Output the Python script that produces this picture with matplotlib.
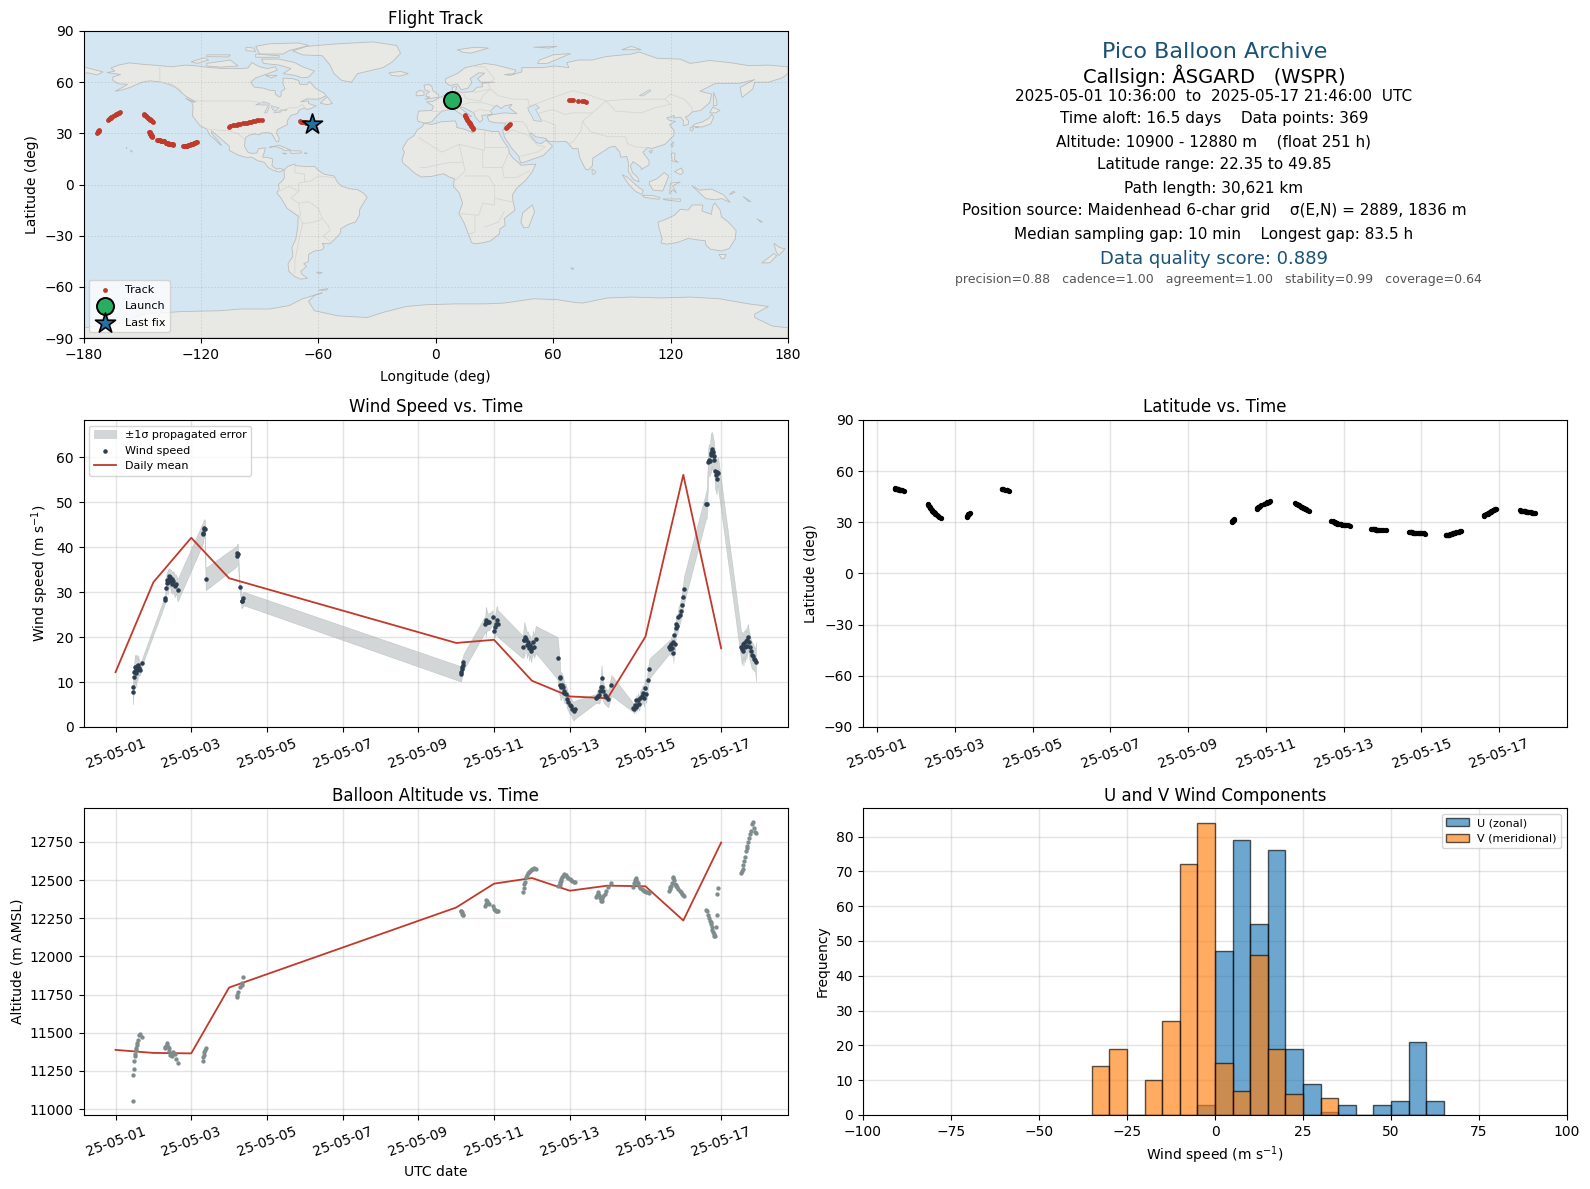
from datetime import datetime
import numpy as np
import matplotlib
matplotlib.use("Agg")
import matplotlib.pyplot as plt
import matplotlib.dates as mdates

# samples, days since 2025-05-01 00:00, one line per daytime cluster
t_days = [
    .46, .47, .49, .50, .51, .52, .53, .55, .56, .58, .60, .62, .65, .69,
    1.30, 1.31, 1.33, 1.35, 1.37, 1.38, 1.40, 1.42, 1.44, 1.46, 1.48, 1.50, 1.53, 1.56, 1.60, 1.64,
    2.30, 2.31, 2.33, 2.35, 2.36, 2.38,
    3.20, 3.21, 3.23, 3.28, 3.33, 3.35, 3.38,
    9.13, 9.14, 9.15, 9.16, 9.18, 9.19,
    9.77, 9.78, 9.80, 9.82, 9.84, 9.87, 9.96, 10.00, 10.02, 10.04, 10.07, 10.10,
    10.76, 10.78, 10.80, 10.82, 10.84, 10.87, 10.90, 10.93, 10.95, 10.98, 11.00, 11.03, 11.06, 11.10,
    11.68, 11.73, 11.74, 11.75, 11.77, 11.78, 11.80, 11.82, 11.84, 11.86, 11.90, 11.93, 11.96, 12.00, 12.03, 12.06, 12.10, 12.15,
    12.70, 12.72, 12.75, 12.78, 12.80, 12.82, 12.84, 12.86, 12.88, 12.92, 12.96, 13.02, 13.10,
    13.68, 13.70, 13.72, 13.74, 13.76, 13.78, 13.80, 13.83, 13.86, 13.90, 13.93, 13.96, 13.98, 14.02, 14.06, 14.10,
    14.62, 14.64, 14.66, 14.68, 14.70, 14.72, 14.74, 14.76, 14.78, 14.80, 14.82, 14.84, 14.87, 14.90, 14.93, 14.96, 14.99, 15.02,
    15.61, 15.62, 15.66, 15.68, 15.70, 15.72, 15.73, 15.75, 15.76, 15.78, 15.80, 15.82, 15.84, 15.86, 15.88, 15.90, 15.92,
    16.53, 16.55, 16.57, 16.59, 16.61, 16.63, 16.65, 16.67, 16.69, 16.71, 16.73, 16.75, 16.78, 16.81, 16.84, 16.87, 16.90, 16.92,
]
wind = [
    7.7, 8.8, 11.2, 12.2, 13.4, 12.4, 13.2, 12.1, 13.6, 12.6, 13.8, 13.2, 12.7, 14.2,
    28.2, 28.6, 30.9, 32.0, 32.6, 32.2, 33.5, 33.0, 33.4, 32.4, 32.9, 31.9, 32.5, 31.4, 31.8, 30.4,
    43.0, 43.2, 44.1, 44.2, 44.0, 32.9,
    38.0, 38.6, 38.5, 31.2, 28.0, 28.1, 28.6,
    11.8, 12.3, 12.9, 13.4, 13.9, 14.4,
    23.0, 23.4, 23.8, 23.4, 23.4, 23.4, 24.4, 21.4, 22.3, 23.0, 23.8, 23.0,
    17.8, 19.3, 19.4, 20.1, 19.6, 18.2, 18.9, 17.5, 18.2, 16.8, 17.6, 18.9, 17.9, 19.5,
    15.3, 11.2, 10.8, 9.3, 9.0, 9.2, 9.3, 8.9, 8.0, 7.5, 7.4, 6.2, 5.6, 4.9, 4.6, 4.0, 3.5, 3.9,
    6.4, 6.6, 6.9, 7.1, 7.9, 9.0, 10.8, 9.0, 7.9, 7.1, 6.6, 6.3, 9.3,
    4.3, 4.0, 4.9, 4.4, 5.9, 4.9, 6.0, 5.2, 6.4, 6.8, 7.5, 6.5, 8.6, 7.4, 10.5, 13.0,
    17.7, 18.0, 17.4, 18.4, 17.5, 19.0, 16.4, 20.5, 18.4, 22.0, 23.0, 22.5, 24.4, 25.0, 25.9, 27.2, 29.0, 30.6,
    49.6, 49.7, 59.0, 59.4, 59.2, 60.5, 60.9, 61.8, 61.4, 61.2, 60.4, 59.3, 56.9, 56.0, 55.2, 56.8, 56.5,
    17.9, 17.4, 18.4, 17.0, 18.6, 17.8, 19.2, 18.0, 19.4, 20.1, 18.8, 17.9, 16.8, 16.0, 15.7, 15.2, 14.8, 14.5,
]
wind_err = [
    2.6, 2.2, 2.4, 2.8, 2.6, 3.2, 2.9, 3.3, 2.6, 2.4, 2.1, 1.8, 1.2, .8,
    .9, 1.0, 1.8, 2.4, 2.0, 2.7, 1.8, 2.3, 1.6, 2.6, 1.9, 2.4, 2.2, 2.6, 2.1, 2.5,
    2.4, 2.3, 2.1, 2.0, 2.1, 2.5,
    2.3, 2.2, 2.3, .8, 1.6, 1.5, 1.5,
    1.7, 1.7, 1.8, 1.9, 1.8, 1.8,
    1.8, 3.4, 2.5, 2.0, 1.9, 1.9, 1.6, 1.8, 2.2, 2.6, 3.2, 3.0,
    2.5, 2.8, 4.0, 2.6, 2.5, 2.9, 2.4, 2.8, 2.3, 2.4, 2.2, 2.6, 2.5, 3.0,
    4.7, 4.2, 3.6, 3.2, 3.0, 2.9, 2.5, 2.4, 2.4, 2.2, 2.1, 2.1, 2.0, 2.0, 1.9, 2.0, 2.1, 2.0,
    1.0, 1.3, 1.6, 1.9, 2.2, 2.5, 3.0, 2.6, 2.2, 2.0, 1.8, 1.9, 2.3,
    1.0, 1.0, 1.1, 1.2, 1.3, 1.4, 1.5, 1.6, 1.7, 1.8, 1.9, 2.0, 2.1, 2.1, 2.2, 2.2,
    1.5, 1.5, 1.6, 1.7, 1.8, 1.8, 2.2, 2.0, 2.0, 2.0, 2.1, 2.0, 2.2, 2.2, 2.2, 2.3, 2.5, 3.0,
    3.0, 3.2, 3.2, 3.6, 3.3, 4.0, 4.4, 3.8, 4.2, 3.7, 3.5, 3.2, 3.9, 3.6, 3.5, 3.0, 3.5,
    3.2, 3.6, 2.8, 3.4, 2.9, 3.4, 2.8, 3.0, 3.2, 2.8, 2.7, 3.0, 2.9, 3.0, 2.9, 2.7, 2.6, 4.4,
]
altitude = [
    11053, 11225, 11262, 11316, 11345, 11362, 11385, 11400, 11420, 11436, 11453, 11485, 11490, 11470,
    11399, 11405, 11414, 11420, 11431, 11410, 11399, 11380, 11355, 11352, 11350, 11358, 11373, 11360, 11330, 11300,
    11316, 11344, 11355, 11377, 11390, 11399,
    11731, 11750, 11768, 11800, 11811, 11826, 11867,
    12300, 12295, 12288, 12280, 12274, 12268,
    12333, 12345, 12372, 12360, 12348, 12340, 12330, 12311, 12305, 12300, 12298, 12296,
    12420, 12445, 12474, 12490, 12517, 12530, 12545, 12550, 12560, 12565, 12572, 12575, 12578, 12575,
    12463, 12470, 12478, 12490, 12496, 12505, 12520, 12528, 12535, 12539, 12530, 12520, 12513, 12505, 12500, 12496, 12490, 12485,
    12391, 12405, 12420, 12400, 12380, 12361, 12365, 12380, 12395, 12408, 12430, 12452, 12478,
    12452, 12480, 12500, 12510, 12500, 12490, 12478, 12463, 12450, 12440, 12435, 12430, 12425, 12422, 12420, 12418,
    12431, 12440, 12452, 12463, 12480, 12513, 12520, 12500, 12474, 12466, 12460, 12452, 12440, 12430, 12420, 12410, 12404, 12398,
    12304, 12295, 12268, 12250, 12232, 12224, 12210, 12192, 12175, 12159, 12148, 12135, 12131, 12192, 12272, 12409, 12448,
    12543, 12560, 12572, 12600, 12626, 12650, 12691, 12710, 12724, 12750, 12778, 12800, 12822, 12865, 12880, 12840, 12815, 12808,
]
latitude = [
    49.85, 49.8, 49.75, 49.65, 49.6, 49.5, 49.4, 49.3, 49.2, 49.1, 49.0, 48.9, 48.7, 48.5,
    40.6, 40.1, 39.5, 39.0, 38.5, 38.0, 37.4, 36.9, 36.3, 35.8, 35.3, 34.8, 34.2, 33.7, 33.1, 32.6,
    33.4, 33.9, 34.3, 34.6, 34.9, 35.3,
    49.6, 49.4, 49.3, 49.0, 48.8, 48.7, 48.6,
    30.4, 30.6, 30.9, 31.1, 31.4, 31.7,
    38.0, 38.4, 38.8, 39.2, 39.6, 40.0, 41.0, 41.2, 41.5, 41.8, 42.0, 42.3,
    41.1, 40.8, 40.5, 40.2, 39.9, 39.5, 39.2, 38.9, 38.6, 38.3, 38.0, 37.7, 37.3, 36.9,
    30.8, 30.5, 30.3, 30.1, 30.0, 29.8, 29.6, 29.4, 29.3, 29.1, 28.9, 28.8, 28.7, 28.5, 28.4, 28.3, 28.2, 28.1,
    26.1, 26.0, 25.9, 25.85, 25.8, 25.75, 25.7, 25.6, 25.55, 25.5, 25.4, 25.35, 25.3,
    24.3, 24.25, 24.2, 24.1, 24.05, 24.0, 23.95, 23.9, 23.85, 23.8, 23.75, 23.7, 23.65, 23.55, 23.5, 23.4,
    22.35, 22.4, 22.45, 22.55, 22.7, 22.8, 23.0, 23.2, 23.35, 23.5, 23.7, 23.85, 24.0, 24.2, 24.4, 24.6, 24.75, 24.9,
    33.9, 34.2, 34.6, 34.9, 35.1, 35.4, 35.6, 35.9, 36.1, 36.3, 36.6, 36.8, 37.1, 37.3, 37.6, 37.8, 38.0,
    37.0, 36.9, 36.9, 36.8, 36.7, 36.6, 36.5, 36.4, 36.3, 36.2, 36.1, 36.0, 35.9, 35.8, 35.7, 35.6, 35.5, 35.4,
]
longitude = [
    8.5, 8.6, 8.7, 8.9, 9.0, 9.2, 9.3, 9.5, 9.7, 9.9, 10.1, 10.3, 10.7, 11.2,
    14.7, 15.0, 15.3, 15.6, 15.9, 16.2, 16.5, 16.8, 17.0, 17.3, 17.6, 17.9, 18.2, 18.5, 18.9, 19.2,
    36.0, 36.4, 36.8, 37.2, 37.6, 38.0,
    68.3, 69.2, 70.2, 72.5, 74.8, 75.8, 76.8,
    -173.0, -172.8, -172.6, -172.4, -172.2, -172.0,
    -167.7, -167.2, -166.7, -166.2, -165.7, -165.0, -164.0, -163.6, -163.0, -162.5, -162.0, -161.3,
    -149.3, -149.0, -148.7, -148.3, -148.0, -147.6, -147.2, -146.9, -146.5, -146.2, -145.8, -145.5, -145.1, -144.6,
    -146.3, -146.2, -146.1, -146.0, -145.9, -145.9, -145.8, -145.7, -145.6, -145.6, -145.5, -145.4, -145.3, -145.2, -145.1, -145.1, -145.0, -144.9,
    -142.2, -141.9, -141.6, -141.2, -140.9, -140.6, -140.3, -140.0, -139.8, -139.6, -139.3, -139.1, -138.8,
    -137.8, -137.6, -137.3, -137.1, -136.8, -136.6, -136.4, -136.2, -136.0, -135.7, -135.5, -135.3, -135.1, -134.8, -134.5, -134.3,
    -128.9, -128.5, -128.1, -127.7, -127.3, -126.9, -126.5, -126.1, -125.7, -125.3, -124.9, -124.5, -124.1, -123.7, -123.3, -122.9, -122.5, -122.1,
    -105.9, -104.9, -103.8, -102.8, -101.8, -100.8, -99.8, -98.7, -97.7, -96.6, -95.6, -94.6, -93.6, -92.5, -91.4, -90.2, -88.9,
    -69.3, -69.0, -68.6, -68.3, -67.9, -67.5, -67.2, -66.8, -66.4, -66.1, -65.7, -65.4, -65.0, -64.6, -64.2, -63.8, -63.4, -63.0,
]

launch_lon, launch_lat = 8.5, 49.6
last_lon, last_lat = -63.0, 35.4

mean_days = [0, 1, 2, 3, 9, 10, 11, 12, 13, 14, 15, 16]
mean_wind = [12.2, 32.2, 42.1, 33.1, 18.7, 19.4, 10.3, 6.8, 6.4, 20.1, 56.1, 17.5]
mean_alt = [11388, 11368, 11365, 11796, 12320, 12476, 12513, 12430, 12463, 12459, 12235, 12745]

bin_left = [-35, -30, -25, -20, -15, -10, -5, 0, 5, 10, 15, 20, 25, 30, 35, 40, 45, 50, 55, 60]
u_counts = [0, 0, 0, 0, 0, 0, 3, 47, 79, 55, 76, 19, 9, 1, 3, 0, 3, 4, 21, 4]
v_counts = [14, 19, 0, 10, 27, 72, 84, 15, 7, 46, 19, 6, 0, 5, 0, 0, 0, 0, 0, 0]

date_ticks = [datetime(2025, 5, d) for d in range(1, 18, 2)]

summary_lines = [
    ("Pico Balloon Archive", 16, "#1a5276"),
    ("Callsign: ÅSGARD   (WSPR)", 14, "black"),
    ("2025-05-01 10:36:00  to  2025-05-17 21:46:00  UTC", 11, "black"),
    ("Time aloft: 16.5 days    Data points: 369", 11, "black"),
    ("Altitude: 10900 - 12880 m    (float 251 h)", 11, "black"),
    ("Latitude range: 22.35 to 49.85", 11, "black"),
    ("Path length: 30,621 km", 11, "black"),
    ("Position source: Maidenhead 6-char grid    σ(E,N) = 2889, 1836 m", 11, "black"),
    ("Median sampling gap: 10 min    Longest gap: 83.5 h", 11, "black"),
    ("Data quality score: 0.889", 13, "#1a5276"),
    ("precision=0.88   cadence=1.00   agreement=1.00   stability=0.99   coverage=0.64", 9, "#555555"),
]
summary_y = [52, 75.5, 96.5, 119, 142, 165, 188, 211, 234, 259, 279.5]
summary_x = [1215, 1214, 1214, 1214, 1214, 1214, 1214, 1214, 1214, 1214, 1218]

# rough coastlines, lon/lat
north_america = [(-168, 65.6), (-164, 66.5), (-166, 68.3), (-162, 70), (-156.5, 71.3), (-150, 70.5), (-141, 69.7), (-135, 69), (-128, 70), (-124, 69.8), (-115, 68.5), (-108, 68), (-100, 68), (-96, 68.3), (-94, 71.5), (-90, 69), (-86, 68), (-82, 69), (-81, 67), (-87, 64.5), (-92, 62.5), (-94.5, 60), (-94, 58.8), (-92.5, 57), (-88, 56.5), (-85, 55.3), (-82, 55), (-82, 53), (-80, 51.3), (-79, 52), (-79, 54.5), (-77, 56), (-78, 58.7), (-78, 62.4), (-73, 62), (-70, 61), (-69.5, 58.8), (-66, 58.5), (-64.5, 60.3), (-61.5, 56.5), (-57, 53.5), (-56, 52), (-60, 50), (-66, 50.2), (-69, 48.5), (-65, 49), (-65, 47.5), (-61, 46), (-64, 44.5), (-66, 44), (-67, 45), (-70, 43.5), (-70.5, 41.7), (-74, 40.5), (-75.5, 38), (-76, 36.5), (-75.7, 35.2), (-78, 33.9), (-81, 32), (-81.3, 30), (-80, 27), (-80.3, 25.2), (-81.5, 25.2), (-82.8, 28), (-84, 30), (-86, 30.4), (-89, 30.2), (-90, 29.2), (-93, 29.7), (-95, 29), (-97.3, 27.5), (-97.5, 25), (-97.8, 22.5), (-96, 19), (-94, 18.2), (-91.5, 18.5), (-90.5, 21), (-87, 21.5), (-87.7, 18.5), (-88.5, 16), (-86, 15.9), (-83.3, 15), (-83.7, 11), (-81.5, 9), (-79.5, 9.5), (-77.5, 8.5), (-78.5, 8), (-80, 7.3), (-83, 8.3), (-85.7, 10), (-87.5, 13), (-91, 14), (-94, 16), (-97, 15.9), (-101, 17.3), (-105.5, 20), (-105.5, 22.5), (-109, 26), (-112.5, 29.5), (-114.7, 31.5), (-114.5, 30), (-111.5, 26), (-109.5, 23), (-110.3, 23.5), (-112.5, 26), (-115.5, 29), (-117, 32.5), (-120.5, 34.5), (-122.5, 37.5), (-124.3, 40.3), (-124, 46), (-124.7, 48.3), (-122.5, 48.5), (-125, 50), (-128, 52), (-130.5, 54.5), (-133, 57), (-136, 58.5), (-140, 60), (-146, 60.8), (-150, 60), (-152, 59), (-156, 57), (-160, 55.5), (-164, 54.6), (-160, 57), (-157.5, 58.8), (-162, 59), (-165, 61), (-165, 63), (-161, 64.5)]
greenland = [(-73, 78.3), (-66, 81), (-50, 82.5), (-32, 83.6), (-20, 81.5), (-18, 77), (-22, 72), (-27, 68.5), (-40, 65), (-43, 60), (-48, 61), (-52, 65), (-54, 70), (-58, 75.5), (-68, 76)]
south_america = [(-77.5, 8.5), (-75.5, 10.7), (-72, 12), (-71.5, 11), (-68, 10.7), (-64, 10.5), (-62, 10.7), (-60, 8.3), (-57, 6), (-52, 5), (-50, 1), (-48, -1), (-44, -2.5), (-40, -3), (-37, -5), (-35, -7.5), (-37, -11), (-39, -15), (-39, -18), (-41, -22), (-45, -23.5), (-48.5, -26), (-48.7, -28.5), (-52, -32.5), (-54, -34.8), (-58, -34.5), (-57, -36.5), (-58, -38.3), (-62, -39), (-65, -41), (-65, -45), (-67.5, -46.5), (-66, -48), (-69, -51), (-68.5, -52.5), (-65.5, -55), (-69, -55.5), (-72, -54), (-75, -51), (-75.5, -46.5), (-73, -42), (-73.5, -37), (-71.5, -32), (-70.5, -25), (-70.3, -18.5), (-76, -14), (-79, -8), (-81.2, -5), (-80, -2.5), (-80.5, 0), (-78.5, 2), (-77.3, 4), (-77.5, 7)]
africa = [(-6, 35.8), (-2, 35.2), (3, 36.8), (10, 37.3), (11, 34), (10.5, 33.5), (15, 32.3), (19, 30.3), (20, 32.7), (25, 32), (29, 31), (32.3, 31.2), (32.5, 29.9), (33.8, 27), (35.5, 24), (37.3, 21), (37.5, 18.5), (39.5, 15.5), (43, 12), (43.5, 11.3), (51.2, 11.9), (49, 7), (46, 2.5), (41.5, -2), (39.2, -6), (39.5, -10), (40.5, -15), (35, -20), (35.5, -24), (32.8, -26), (32.5, -29), (28, -33), (25, -34), (20, -34.8), (18.3, -34), (17, -30), (14.5, -22.5), (11.8, -17), (13.7, -11), (12, -5), (9, -1), (9.5, 3.5), (7, 4.3), (4, 6.3), (-2, 4.8), (-7.5, 4.4), (-11, 6.8), (-13.5, 9.5), (-16.7, 12.5), (-17.3, 14.7), (-16, 19), (-17, 21), (-14.5, 26), (-11, 28.8), (-9.5, 32), (-6.8, 34)]
eurasia = [(-9, 37), (-9.5, 38.7), (-8.8, 43), (-2, 43.4), (-1.2, 46), (-4.7, 48.4), (-1.5, 48.7), (2, 51), (4, 52), (7, 53.5), (8.7, 54), (8.3, 57), (10.7, 57.5), (10, 54.5), (14, 54), (19, 54.5), (21, 57), (24, 57.3), (23.5, 59.3), (30, 60), (23, 60), (21.3, 62), (25, 65.3), (22, 65.5), (17.5, 62), (18.5, 60), (16.5, 56.5), (13, 55.5), (11, 59), (7, 58), (5, 60), (5, 62), (11, 65), (15, 68.5), (25, 71), (31, 70), (41, 67), (40, 65), (35, 64.5), (38, 64), (44, 66), (44, 68.5), (54, 68.5), (61, 69.5), (68, 68.5), (67, 71.5), (73, 73), (80, 73), (87, 75), (100, 76.5), (104, 77.7), (113, 74), (125, 73.5), (130, 71), (140, 72.7), (150, 71.5), (160, 69.7), (170, 70), (180, 69), (180, 65), (177, 62.5), (170, 60), (163, 60), (162, 56), (156.5, 51), (155.5, 57), (163, 61.5), (155, 59.3), (143, 59.3), (135, 54.7), (141, 53), (140, 48), (135.5, 43.5), (131, 42.5), (129.5, 40.7), (127.5, 39.5), (129.3, 37), (129, 35.2), (126.5, 34.5), (126.5, 37.5), (125, 39.5), (121.5, 39), (122, 40.5), (118, 39), (119.5, 37.5), (122.5, 37), (119.5, 35), (121.8, 31.5), (121.5, 28.5), (117, 23.5), (113.5, 22.2), (110, 21), (108.5, 21.7), (105.8, 19), (109, 14), (109, 11.5), (105, 8.8), (105, 10), (102, 12.5), (100.8, 13.4), (99.5, 11), (100.5, 7), (103.3, 4), (104, 1.5), (101, 3), (98.3, 8), (98.6, 12), (97.6, 16.5), (94.5, 16), (94, 19), (91.5, 22.5), (88.5, 21.7), (86.5, 20), (80.3, 15.5), (80, 11), (78, 8.5), (76.5, 9), (73.5, 16), (72.7, 21), (70, 21), (68, 23.7), (66.5, 25.3), (61.5, 25), (57, 25.5), (56.5, 27), (51, 28), (48.8, 30.3), (48, 29.5), (50, 26.5), (51.5, 24.5), (54, 24), (56.3, 26), (59.7, 22.5), (55, 17), (45, 13), (43.3, 12.8), (42.5, 16.5), (39, 21), (35, 28), (34.8, 29.5), (34.2, 31.3), (35.8, 36), (30.5, 36.2), (27.3, 37), (26.3, 40), (29, 41), (35, 42), (41.5, 41.5), (37.5, 45), (39, 47), (35, 46), (33.5, 44.5), (31, 46.5), (28, 43), (29, 41.2), (26, 40.8), (23.5, 40.5), (24, 38), (22.5, 36.5), (20, 40), (19.5, 42), (13.5, 45.5), (12.3, 45), (16, 41.8), (18.3, 40), (16.5, 39.5), (16, 38), (12.5, 41.5), (9, 44.3), (3, 43), (0, 39.5), (-2, 36.8), (-5.5, 36)]
chukotka = [(-180, 69), (-175, 67.5), (-170, 66), (-173, 64.3), (-178, 65.5), (-180, 65)]
australia = [(113.5, -22), (114.2, -26), (115.7, -32), (115, -34.3), (118, -35), (123.5, -34), (129, -31.6), (134, -32.5), (137.8, -33), (138, -35.5), (140.5, -38), (146, -39), (150, -37.5), (153, -32), (153.5, -27), (149.5, -22), (146, -19), (145.3, -15), (142.5, -10.8), (141.5, -13), (140.8, -17.5), (136, -15.5), (136.5, -12), (131, -12), (129, -15), (125, -14.5), (122, -18), (117, -20.7)]
antarctica = [(-180, -84), (-160, -81), (-150, -76), (-130, -74.5), (-110, -74), (-100, -73), (-85, -73), (-75, -71), (-68, -67), (-58, -63.5), (-62, -65), (-65, -68.5), (-62, -74), (-50, -77), (-35, -78), (-27, -75), (-15, -71.5), (-5, -70.5), (10, -70), (25, -70), (35, -69.5), (50, -67), (62, -67.5), (70, -69), (75, -69.5), (88, -66.5), (100, -66), (115, -66.5), (130, -66), (145, -67), (160, -70), (170, -71.5), (163, -76), (163, -78), (172, -83), (180, -84), (180, -90), (-180, -90)]
islands = [
    [(-80, 73.5), (-72, 71.5), (-68, 69), (-62, 66.5), (-65, 63), (-68, 62.5), (-72, 64), (-78, 65), (-74, 68), (-80, 70), (-88, 71), (-89, 73.5)],
    [(-117, 71), (-105, 73), (-101, 69.5), (-110, 68.8), (-117, 69.5)],
    [(-125, 72), (-118, 74.3), (-116, 73), (-122, 71)],
    [(-90, 76.5), (-78, 76.5), (-75, 78.5), (-65, 81.5), (-70, 83), (-85, 82.5), (-92, 81)],
    [(-92, 76.5), (-80, 75.5), (-80, 74.6), (-92, 74.6)],
    [(-97, 80.5), (-93, 80), (-92, 78), (-97, 78.5)],
    [(-117, 76), (-105, 76), (-106, 74.8), (-117, 75)],
    [(-59, 47.7), (-55.5, 51.5), (-52.8, 47.5), (-55.5, 46.8)],
    [(-128, 50.7), (-123.5, 48.4), (-125.5, 48.8)],
    [(-87, 64), (-81, 64), (-84, 62.5)],
    [(-24, 65.5), (-18, 66.3), (-14, 65), (-18.5, 63.5), (-22.5, 64)],
    [(-85, 21.8), (-80, 23), (-74.2, 20.2), (-77.5, 19.9), (-78.5, 21), (-82, 22.3)],
    [(-74.5, 19.8), (-69, 19.7), (-68.5, 18.5), (-74, 18.2)],
    [(-78.3, 18.4), (-76.3, 18.2), (-77, 17.8)],
    [(-67.2, 18.5), (-65.7, 18.4), (-66, 18)],
    [(-156, 20), (-155, 19.5), (-155.7, 19)],
    [(-158.2, 21.6), (-157.7, 21.4), (-158, 21.2)],
    [(-61, -51.5), (-58, -51.5), (-59, -52.3)],
    [(49.3, -12), (50.5, -16), (47.5, -25), (45, -25.5), (43.5, -22), (44.5, -16.5)],
    [(-5.5, 50), (1.5, 51.2), (1.5, 52.7), (-1.5, 55), (-2, 57.5), (-3.5, 58.6), (-6, 58.3), (-5.5, 55.5), (-3.2, 54.5), (-4.5, 53.3), (-5, 51.7), (-3, 51.3)],
    [(-10, 52), (-6, 52.3), (-6, 54.5), (-8, 55.2), (-10, 54)],
    [(11, 79), (20, 80.5), (27, 80), (18, 77), (14, 77.5)],
    [(52, 71), (57, 71), (69, 76.8), (60, 76), (53, 73)],
    [(95, 79), (105, 79), (100, 81)],
    [(50, 80.5), (62, 81), (58, 80)],
    [(142, 54), (143.5, 49.5), (143.7, 46.5), (142, 46), (142, 50)],
    [(131, 34), (136, 33.7), (140.5, 35.5), (142, 39.5), (141, 41.3), (139.8, 39), (136.5, 36.8), (132.5, 35.5)],
    [(140, 42), (141.5, 45.3), (145.3, 43.5), (143, 42)],
    [(130, 33.5), (131.8, 33), (131, 31.3), (130, 32)],
    [(132.5, 33.5), (134.5, 34), (134, 33.3)],
    [(120, 23), (121.5, 25.2), (121, 22)],
    [(109, 19.5), (110.8, 20), (110, 18.3)],
    [(120.5, 18.5), (122.3, 18.3), (122, 14.5), (124, 13), (120.8, 13.8)],
    [(122, 7.5), (125.5, 9.7), (126.5, 7), (125, 5.8)],
    [(95.3, 5.7), (98, 4.2), (104, -2), (106, -3.5), (105.3, -5.8), (102, -4), (98.7, 0)],
    [(105.5, -6.3), (111, -6.5), (114.5, -7.7), (114, -8.7), (106.5, -7.5)],
    [(109, 1.5), (113, 3.3), (116.8, 7), (119, 5), (117.7, 1), (116, -3.8), (111, -3.3), (109.5, -0.5)],
    [(119.5, -5.5), (120, 0.8), (125, 1.5), (121, -0.8), (123, -5), (121, -3)],
    [(131, -0.8), (135, -3.3), (141, -2.7), (147, -6), (150.5, -10.5), (146, -8.2), (143, -9), (138, -8.3), (134, -4)],
    [(116, -8.5), (125, -8.5), (125, -10), (117, -9)],
    [(79.8, 9), (81.8, 7.5), (81, 6), (80, 6.2)],
    [(144.8, -41), (148.3, -41), (147.5, -43.5), (146, -43.5)],
    [(172.8, -34.5), (175.8, -37), (178.5, -37.7), (175.3, -41.6), (174, -39.5)],
    [(172.7, -40.6), (174.3, -41.7), (170.7, -45.9), (166.5, -46), (170, -43)],
    [(152, -4), (153, -4.5), (150, -6)],
    [(157, -7), (161, -10), (160, -10)],
    [(164, -20), (167, -22), (166, -22)],
    [(69, -49), (70.5, -49), (70, -50)],
    [(-60, -62), (-55, -61), (-56, -62)],
]
lakes = [
    [(47, 45), (51, 47), (53, 45), (51, 44), (53, 40), (54, 37), (50, 37.5), (49, 40.5), (47.5, 43)],
    [(-92, 46.8), (-88, 48.5), (-85, 47.5), (-85, 46.5)],
    [(-87.5, 42), (-86, 45.5), (-85, 45.5), (-86.3, 42)],
    [(-84, 46), (-80, 45), (-82, 43), (-83.5, 44)],
    [(-83, 42), (-79, 43), (-79, 42.5)],
    [(-80, 43.5), (-76, 44), (-76.5, 43.3)],
    [(104, 52), (109, 55.5), (110, 55), (106, 52)],
]
borders = [
    [(-123, 49), (-95, 49), (-89, 48), (-83, 46), (-82.5, 42.5), (-79, 43), (-75, 45), (-71, 45), (-68, 47), (-67, 45)],
    [(-141, 70), (-141, 60), (-135, 59), (-130, 55)],
    [(-117, 32.5), (-108, 31.5), (-106, 31.7), (-101, 29.7), (-97.3, 26)],
    [(-52, 4), (-60, 5), (-64, 2), (-70, 1), (-70, -4), (-74, -8), (-70, -11), (-65, -10), (-60, -14), (-58, -20), (-55, -24), (-54, -27), (-57.5, -30), (-53.5, -34)],
    [(-70, -18), (-68, -23), (-70, -33), (-72, -45), (-72, -52)],
    [(-70, -11), (-69, -18)],
    [(-58, -20), (-62, -22), (-68, -23)],
    [(-72, 12), (-72, 7), (-67, 6), (-67, 1.5)],
    [(-80, -4), (-75, -1), (-70, -4)],
    [(-8.7, 27.5), (3, 19), (12, 23.5), (25, 20), (25, 32)],
    [(25, 22), (36.5, 22)],
    [(12, 23.5), (14, 13), (8, 13), (3, 12), (-5, 10), (-8, 10)],
    [(24, 20), (24, 10), (34, 10), (36, 15), (37, 18)],
    [(34, 10), (35, 4), (41, 4), (48, 8)],
    [(14, 13), (15, 8), (10, 2.5)],
    [(15, 5), (27, 5), (30, -1), (30, -12), (24, -11), (22, -18), (12, -17)],
    [(20, -18), (20, -28), (17, -29)],
    [(25, -25), (32, -22), (35, -16)],
    [(30, -8), (40, -10.5)],
    [(20, 54), (28, 56), (32, 52), (40, 50), (47, 50), (48, 46), (60, 51), (70, 55), (77, 53), (87, 49), (98, 50), (107, 50), (117, 50), (120, 53), (127, 50), (131, 45), (131, 42.5)],
    [(53, 42), (60, 44), (66, 41), (70, 42), (80, 42), (87, 49)],
    [(87, 49), (92, 43), (105, 42), (112, 45), (120, 47), (117, 50)],
    [(80, 42), (75, 37), (79, 31), (88, 28), (97, 28), (98, 24), (102, 22), (108, 21.5)],
    [(75, 37), (74, 31), (70, 25), (68, 23.7)],
    [(61, 25), (61, 35), (54, 38)],
    [(48, 30), (46, 35), (44, 37), (36, 36.5)],
    [(35, 29), (39, 32), (47, 29), (52, 23), (56, 22), (52, 19), (45, 17), (43, 16.5)],
    [(-2, 43), (3, 42.5)],
    [(3, 51), (8, 49), (7.5, 46), (13, 46.5), (17, 48), (24, 48), (30, 46), (28, 43), (22, 44), (19, 42)],
    [(14, 54), (15, 51), (17, 50), (23, 49), (24, 52), (28, 56), (27, 59)],
    [(20, 69), (25, 69), (30, 62), (28, 60)],
]
land_polygons = [north_america, greenland, south_america, africa, eurasia, chukotka, australia, antarctica] + islands

OCEAN = "#d4e6f1"
LAND = "#e8e8e4"
COAST = "#bcbcbc"
RED = "#c0392b"
NAVY = "#2c3e50"
GREY = "#7f8c8d"

FIG_W, FIG_H = 1590, 1189


def add_panel(fig, left, top, right, bottom):
    # pixel box -> figure fractions
    return fig.add_axes([left / FIG_W, 1 - bottom / FIG_H, (right - left) / FIG_W, (bottom - top) / FIG_H])


def style_dates(ax):
    ax.xaxis_date()
    ax.set_xticks(mdates.date2num(date_ticks))
    ax.xaxis.set_major_formatter(mdates.DateFormatter("%y-%m-%d"))
    ax.tick_params(axis="x", labelrotation=20)
    ax.grid(True, alpha=0.35, linewidth=1)


base = mdates.date2num(datetime(2025, 5, 1))
t = base + np.array(t_days)
t_mean = base + np.array(mean_days)
wind = np.array(wind)
wind_err = np.array(wind_err)

fig = plt.figure(figsize=(FIG_W / 100, FIG_H / 100), dpi=100)

# map
ax = add_panel(fig, 83.5, 31, 788, 338)
ax.set_facecolor(OCEAN)
for poly in land_polygons:
    lons, lats = zip(*poly)
    ax.fill(lons, lats, facecolor=LAND, edgecolor=COAST, linewidth=0.6, zorder=1)
for poly in lakes:
    lons, lats = zip(*poly)
    ax.fill(lons, lats, facecolor=OCEAN, edgecolor=COAST, linewidth=0.5, zorder=1.1)
for line in borders:
    lons, lats = zip(*line)
    ax.plot(lons, lats, color="#d6d6d2", linewidth=0.6, zorder=1.2)
ax.scatter(longitude, latitude, s=6, color=RED, zorder=3, label="Track")
ax.scatter([launch_lon], [launch_lat], s=150, color="#27ae60", edgecolor="black", linewidth=1.4, zorder=5, label="Launch")
ax.scatter([last_lon], [last_lat], s=230, marker="*", color="#2471a3", edgecolor="black", linewidth=1.2, zorder=5, label="Last fix")
ax.set_xlim(-180, 180)
ax.set_ylim(-90, 90)
ax.set_xticks(range(-180, 181, 60))
ax.set_yticks(range(-90, 91, 30))
ax.grid(True, color="grey", alpha=0.25, linewidth=0.6, linestyle=(0, (2, 2)), zorder=2)
ax.set_title("Flight Track", fontsize=12, pad=5)
ax.set_xlabel("Longitude (deg)", labelpad=6)
ax.set_ylabel("Latitude (deg)")
ax.legend(loc="lower left", fontsize=8, framealpha=0.8, labelspacing=0.6)

# summary text
ax = add_panel(fig, 863, 31, 1567, 338)
ax.axis("off")
for (text, size, color), x_px, y_px in zip(summary_lines, summary_x, summary_y):
    fig.text(x_px / FIG_W, 1 - y_px / FIG_H, text, fontsize=size, color=color, ha="center", va="center")

# wind speed
ax = add_panel(fig, 83.5, 420, 788, 727)
ax.fill_between(t, wind - wind_err, wind + wind_err, color=GREY, alpha=0.35, linewidth=0.4, label="±1σ propagated error")
ax.scatter(t, wind, s=5, color=NAVY, zorder=3, label="Wind speed")
ax.plot(t_mean, mean_wind, color=RED, linewidth=1.3, label="Daily mean")
ax.set_ylim(0, 68.3)
style_dates(ax)
ax.set_title("Wind Speed vs. Time", fontsize=12)
ax.set_ylabel("Wind speed (m s$^{-1}$)")
ax.legend(loc="upper left", fontsize=8)

# latitude
ax = add_panel(fig, 863, 420, 1567, 727)
ax.scatter(t, latitude, s=8, color="black", zorder=3)
ax.set_ylim(-90, 90)
ax.set_yticks(range(-90, 91, 30))
style_dates(ax)
ax.set_title("Latitude vs. Time", fontsize=12)
ax.set_ylabel("Latitude (deg)")

# altitude
ax = add_panel(fig, 83.5, 808, 788, 1115)
ax.scatter(t, altitude, s=4.5, color=GREY, zorder=3)
ax.plot(t_mean, mean_alt, color=RED, linewidth=1.3)
style_dates(ax)
ax.set_title("Balloon Altitude vs. Time", fontsize=12, pad=5)
ax.set_xlabel("UTC date")
ax.set_ylabel("Altitude (m AMSL)")

# U/V histogram
ax = add_panel(fig, 863, 808, 1567, 1115)
ax.bar(bin_left, u_counts, width=5, align="edge", color="#1f77b4", edgecolor="black", alpha=0.65, label="U (zonal)")
ax.bar(bin_left, v_counts, width=5, align="edge", color="#ff7f0e", edgecolor="black", alpha=0.65, label="V (meridional)")
ax.set_xlim(-100, 100)
ax.set_axisbelow(True)
ax.grid(True, alpha=0.35, linewidth=1)
ax.set_title("U and V Wind Components", fontsize=12, pad=5)
ax.set_xlabel("Wind speed (m s$^{-1}$)")
ax.set_ylabel("Frequency")
ax.legend(loc="upper right", fontsize=8)

fig.savefig("out.png", dpi=100)
